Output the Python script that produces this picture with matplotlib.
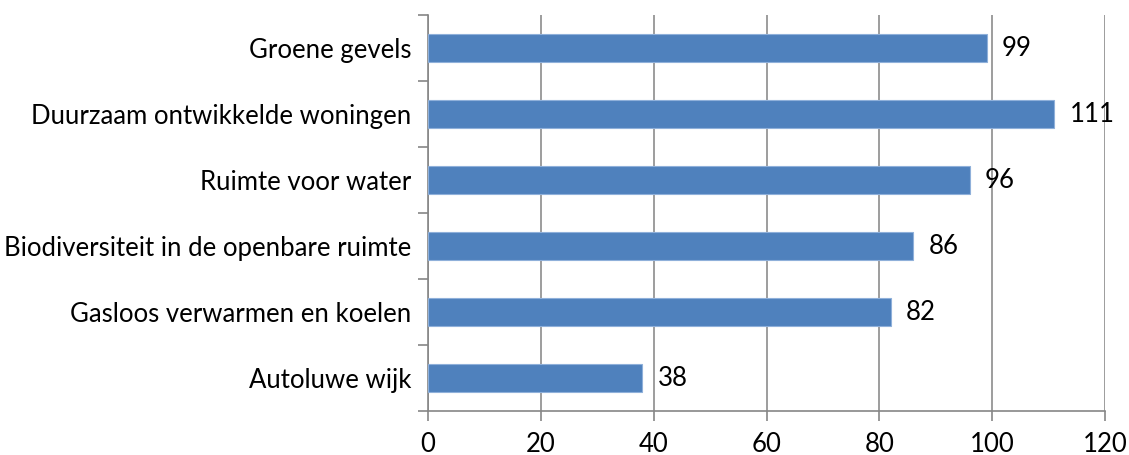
import matplotlib.pyplot as plt

plt.rcParams['font.family'] = ['Lato', 'DejaVu Sans']

categories = ['Autoluwe wijk', 'Gasloos verwarmen en koelen',
              'Biodiversiteit in de openbare ruimte', 'Ruimte voor water',
              'Duurzaam ontwikkelde woningen', 'Groene gevels']
values = [38, 82, 86, 96, 111, 99]
xticks = [0, 20, 40, 60, 80, 100, 120]

fig = plt.figure(figsize=(11.29, 4.55), dpi=100)
ax = fig.add_axes([0.379, 0.0967, 0.5999, 0.8703])

ypos = range(len(categories))
ax.barh(ypos, values, height=0.42, color='#4F81BD', edgecolor='#8FB0DA',
        linewidth=0.8, zorder=3)
for y, v in zip(ypos, values):
    ax.annotate(str(v), (v, y), xytext=(11, 0), textcoords='offset points',
                va='center', ha='left', fontsize=18.5, color='black', zorder=4)

ax.set_xlim(0, 120)
ax.set_ylim(-0.5, len(categories) - 0.5)
ax.set_xticks(xticks)
ax.tick_params(axis='x', labelsize=18.5, length=7, width=1.2, color='#868686', pad=8)
ax.xaxis.grid(True, color='#8C8C8C', linewidth=1.2, zorder=0)

# category labels in the middle, tick marks on boundaries
ax.set_yticks([y - 0.5 for y in ypos] + [len(categories) - 0.5])
ax.set_yticklabels([])
ax.set_yticks(list(ypos), minor=True)
ax.set_yticklabels(categories, minor=True, fontsize=18.5)
ax.tick_params(axis='y', which='major', length=7, width=1.2, color='#868686')
ax.tick_params(axis='y', which='minor', length=0, pad=12)

for side in ['top', 'right']:
    ax.spines[side].set_visible(False)
for side in ['left', 'bottom']:
    ax.spines[side].set_color('#868686')
    ax.spines[side].set_linewidth(1.2)

fig.savefig('out.png', dpi=100)
